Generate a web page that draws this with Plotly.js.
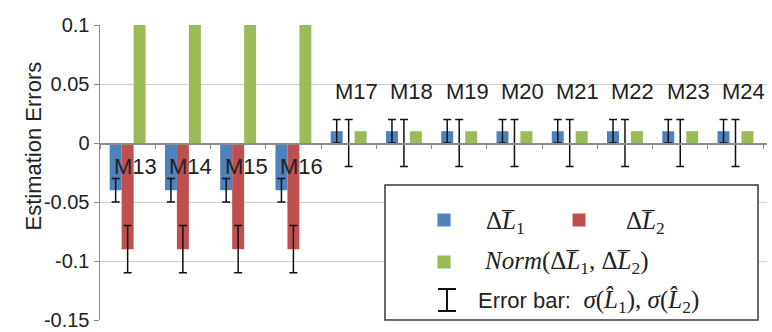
<!DOCTYPE html>
<html>
<head>
<meta charset="utf-8">
<script src="https://cdn.plot.ly/plotly-3.0.1.min.js"></script>
<style>html,body{margin:0;padding:0;background:#fff;}#chart{width:772px;height:332px;}</style>
</head>
<body>
<div id="chart"></div>
<script>
// ---- data ----
const categories = ['M13','M14','M15','M16','M17','M18','M19','M20','M21','M22','M23','M24'];
const deltaL1 = [-0.04,-0.04,-0.04,-0.04,0.01,0.01,0.01,0.01,0.01,0.01,0.01,0.01];
const deltaL2 = [-0.09,-0.09,-0.09,-0.09,0,0,0,0,0,0,0,0];
const normL   = [0.1,0.1,0.1,0.1,0.01,0.01,0.01,0.01,0.01,0.01,0.01,0.01];
const sigmaL1 = [0.01,0.01,0.01,0.01,0.01,0.01,0.01,0.01,0.01,0.01,0.01,0.01];
const sigmaL2 = [0.02,0.02,0.02,0.02,0.02,0.02,0.02,0.02,0.02,0.02,0.02,0.02];
const yTickVals = [-0.15,-0.1,-0.05,0,0.05,0.1];
const yTickText = ['-0.15','-0.1','-0.05','0','0.05','0.1'];

// ---- styles ----
const BLUE = '#4F81BD', RED = '#C0504D', GREEN = '#9BBB59';
const SANS = 'Liberation Sans, Arial, sans-serif';
const SERIF = 'Liberation Serif, Times New Roman, serif';
const TXT = '#222';
const W = 772, H = 332, ML = 100, MR = 5, MT = 25, MB = 12;
const PW = W - ML - MR, PH = H - MT - MB;
const px = x => (x - ML) / PW;
const py = y => (H - MB - y) / PH;
const yRange = [-0.15, 0.1];

const errStyle = {type:'data', visible:true, color:'#111', thickness:1.5, width:4};

const traces = [
  {type:'bar', x:categories, y:deltaL1, marker:{color:BLUE}, error_y:Object.assign({array:sigmaL1}, errStyle), hoverinfo:'skip'},
  {type:'bar', x:categories, y:deltaL2, marker:{color:RED}, error_y:Object.assign({array:sigmaL2}, errStyle), hoverinfo:'skip'},
  {type:'bar', x:categories, y:normL, marker:{color:GREEN}, hoverinfo:'skip'}
];

const annotations = categories.map((c, i) => ({
  x: c, y: 0, xref:'x', yref:'y', text: c, showarrow:false,
  xshift: 8, yshift: deltaL1[i] < 0 ? -23 : 52,
  font:{family:SANS, size:22, color:TXT}
}));

annotations.push({
  x: px(18), y: py(146), xref:'paper', yref:'paper', text:'Estimation Errors',
  textangle:-90, showarrow:false, font:{family:SANS, size:22, color:TXT}
});

const legTxt = (x, y, t) => ({x:px(x), y:py(y), xref:'paper', yref:'paper', xanchor:'left', yanchor:'middle',
  text:t, showarrow:false, font:{family:SERIF, size:25, color:TXT}});
annotations.push(legTxt(484, 222, 'Δ<i>L\u0305</i><sub>1</sub>'));
annotations.push(legTxt(624, 222, 'Δ<i>L\u0305</i><sub>2</sub>'));
annotations.push(legTxt(482, 262, '<i>Norm</i>(Δ<i>L\u0305</i><sub>1</sub>, Δ<i>L\u0305</i><sub>2</sub>)'));
annotations.push(legTxt(476, 301, '<span style="font-family:Liberation Sans, Arial, sans-serif;font-size:22px">Error bar:</span>&nbsp; <i>σ</i>(<i>L\u0302</i><sub>1</sub>), <i>σ</i>(<i>L\u0302</i><sub>2</sub>)'));

const sq = (cx, cy, col) => ({type:'rect', xref:'paper', yref:'paper', layer:'above',
  x0:px(cx-6.5), x1:px(cx+6.5), y0:py(cy+6.5), y1:py(cy-6.5), fillcolor:col, line:{width:0}});
const ln = (x0,y0,x1,y1) => ({type:'line', xref:'paper', yref:'paper', layer:'above',
  x0:px(x0), x1:px(x1), y0:py(y0), y1:py(y1), line:{color:'#111', width:2}});

const shapes = [
  {type:'rect', xref:'paper', yref:'paper', layer:'above', x0:px(385), x1:px(758), y0:py(320), y1:py(185),
   fillcolor:'#fff', line:{color:'#3a3a3a', width:1.5}},
  sq(444, 220, BLUE), sq(579, 220, RED), sq(444, 262, GREEN),
  ln(447, 289, 447, 311), ln(438, 289, 456, 289), ln(438, 311, 456, 311)
];

const layout = {
  width:W, height:H, margin:{l:ML, r:MR, t:MT, b:MB, pad:0},
  paper_bgcolor:'#fff', plot_bgcolor:'#fff', showlegend:false,
  barmode:'group', bargap:0.35, bargroupgap:0,
  font:{family:SANS, color:TXT},
  xaxis:{type:'category', anchor:'free', position:(0 - yRange[0]) / (yRange[1] - yRange[0]),
    showline:true, linecolor:'#8c8c8c', linewidth:1.5, ticks:'outside', tickson:'boundaries',
    ticklen:4, tickcolor:'#8c8c8c', showticklabels:false, showgrid:false, zeroline:false, fixedrange:true},
  yaxis:{range:yRange, tickvals:yTickVals, ticktext:yTickText, showline:true, linecolor:'#8c8c8c', linewidth:1.5,
    ticks:'outside', ticklen:5, tickcolor:'#8c8c8c', showgrid:true, gridcolor:'#cfcfcf', gridwidth:1,
    zeroline:false, tickfont:{family:SANS, size:20, color:TXT}, fixedrange:true},
  annotations: annotations,
  shapes: shapes
};

Plotly.newPlot('chart', traces, layout, {staticPlot:true, displayModeBar:false});
</script>
</body>
</html>
